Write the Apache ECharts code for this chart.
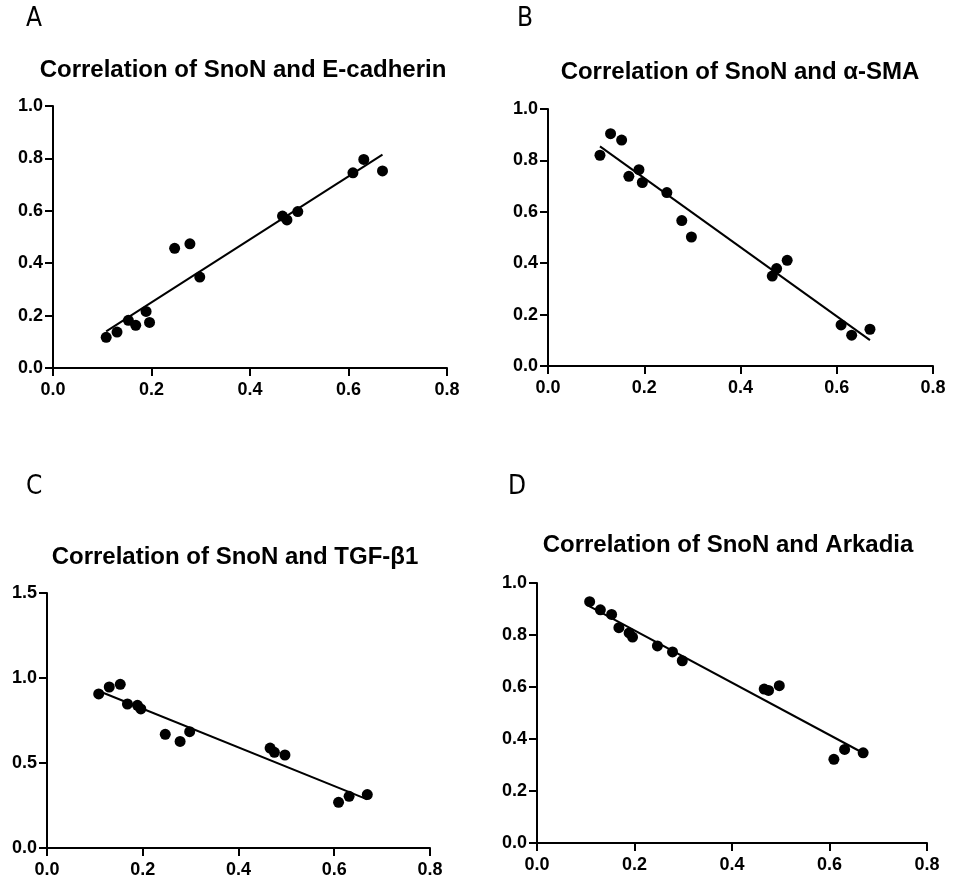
<!DOCTYPE html>
<html lang="en">
<head>
  <meta charset="UTF-8">
  <script src="https://cdn.jsdelivr.net/npm/echarts@6/dist/echarts.min.js"></script>
  <title>SnoN correlations</title>
  <style>
    html, body { margin: 0; padding: 0; background: #fff; }
    #chart { width: 956px; height: 880px; }
  </style>
</head>
<body>
  <div id="chart"></div>
  <script>
    // SnoN expression (x), shared by all four panels
    const snon = [0.108, 0.130, 0.153, 0.168, 0.189, 0.196, 0.247, 0.278, 0.298,
                  0.466, 0.475, 0.497, 0.609, 0.631, 0.669];

    // y values
    const ecadherin = [0.117, 0.137, 0.182, 0.163, 0.216, 0.174, 0.457, 0.474, 0.347,
                       0.580, 0.565, 0.597, 0.745, 0.796, 0.752];
    const asma = [0.820, 0.904, 0.879, 0.738, 0.764, 0.714, 0.675, 0.566, 0.502,
                  0.350, 0.379, 0.411, 0.160, 0.120, 0.143];
    const tgfb1 = [0.906, 0.947, 0.963, 0.847, 0.839, 0.818, 0.669, 0.627, 0.684,
                   0.588, 0.563, 0.547, 0.269, 0.304, 0.314];
    const arkadia = [0.928, 0.897, 0.879, 0.828, 0.808, 0.792, 0.758, 0.735, 0.701,
                     0.592, 0.587, 0.605, 0.322, 0.360, 0.347];

    const panelLetters = ['A', 'B', 'C', 'D'];
    const panelTitles = [
      'Correlation of SnoN and E-cadherin',
      'Correlation of SnoN and \u03b1-SMA',
      'Correlation of SnoN and TGF-\u03b21',
      'Correlation of SnoN and Arkadia'
    ];
    const panelY = [ecadherin, asma, tgfb1, arkadia];
    const yMax = [1.0, 1.0, 1.5, 1.0];
    const yStep = [0.2, 0.2, 0.5, 0.2];

    // layout of the four plots (px)
    const grids = [
      { left: 53, top: 106, width: 394, height: 262 },
      { left: 548, top: 109, width: 385, height: 257 },
      { left: 47, top: 593, width: 383, height: 255 },
      { left: 537, top: 583, width: 390, height: 260 }
    ];
    const letterPos = [[26, 6], [517, 6], [26, 474], [508, 474]];
    const titlePos = [[243, 58], [740, 60], [235, 545], [728, 533]];

    // least-squares fit line over the data range
    function fitLine(xs, ys) {
      const n = xs.length;
      const mx = xs.reduce((a, b) => a + b, 0) / n;
      const my = ys.reduce((a, b) => a + b, 0) / n;
      let sxy = 0, sxx = 0;
      for (let i = 0; i < n; i++) {
        sxy += (xs[i] - mx) * (ys[i] - my);
        sxx += (xs[i] - mx) * (xs[i] - mx);
      }
      const b = sxy / sxx;
      const a = my - b * mx;
      const x0 = Math.min(...xs), x1 = Math.max(...xs);
      return [[x0, a + b * x0], [x1, a + b * x1]];
    }

    const axisCommon = {
      axisLine: { onZero: false, lineStyle: { color: '#000', width: 2 } },
      axisTick: { show: true, inside: false, length: 8, lineStyle: { color: '#000', width: 2 } },
      splitLine: { show: false },
      axisLabel: {
        color: '#000', fontWeight: 'bold', fontSize: 18,
        fontFamily: 'Arial, "Liberation Sans", sans-serif',
        formatter: v => v.toFixed(1)
      }
    };

    const titles = [];
    const xAxes = [];
    const yAxes = [];
    const series = [];

    panelLetters.forEach((letter, i) => {
      titles.push({
        text: letter, left: letterPos[i][0], top: letterPos[i][1], padding: 0,
        textStyle: { fontSize: 26, fontWeight: 'normal', color: '#000',
          fontFamily: '"Liberation Sans Narrow", "DejaVu Sans Condensed", sans-serif' }
      });
      titles.push({
        text: panelTitles[i], left: titlePos[i][0], top: titlePos[i][1], padding: 0,
        textAlign: 'center',
        textStyle: { fontSize: 24, fontWeight: 'bold', color: '#000',
          fontFamily: 'Arial, "Liberation Sans", sans-serif' }
      });
      xAxes.push(Object.assign({}, axisCommon, {
        type: 'value', gridIndex: i, min: 0, max: 0.8, interval: 0.2,
        axisLabel: Object.assign({}, axisCommon.axisLabel, { margin: 13 })
      }));
      yAxes.push(Object.assign({}, axisCommon, {
        type: 'value', gridIndex: i, min: 0, max: yMax[i], interval: yStep[i],
        axisLabel: Object.assign({}, axisCommon.axisLabel, { margin: 10 })
      }));
      series.push({
        type: 'scatter', xAxisIndex: i, yAxisIndex: i,
        symbol: 'circle', symbolSize: 11,
        itemStyle: { color: '#000', opacity: 1 },
        data: snon.map((x, k) => [x, panelY[i][k]]),
        z: 3
      });
      series.push({
        type: 'line', xAxisIndex: i, yAxisIndex: i,
        showSymbol: false, symbol: 'none',
        lineStyle: { color: '#000', width: 2 },
        data: fitLine(snon, panelY[i]),
        z: 2
      });
    });

    const chart = echarts.init(document.getElementById('chart'));
    chart.setOption({
      animation: false,
      backgroundColor: '#fff',
      title: titles,
      grid: grids,
      xAxis: xAxes,
      yAxis: yAxes,
      series: series
    });
  </script>
</body>
</html>
